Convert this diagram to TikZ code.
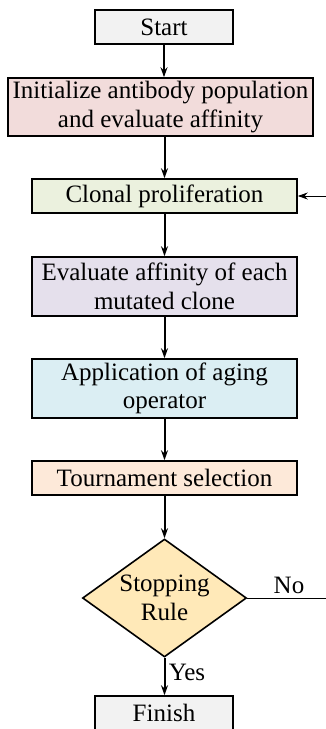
\documentclass[tikz,border=0pt]{standalone}
\usepackage{fontspec}
\setmainfont{LiberationSerif}[Extension=.ttf, UprightFont=*-Regular, BoldFont=*-Bold]
\usetikzlibrary{shapes.geometric,arrows.meta}
\definecolor{termfill}{HTML}{F2F2F2}
\definecolor{initfill}{HTML}{F2DCDB}
\definecolor{clonefill}{HTML}{EBF1DE}
\definecolor{evalfill}{HTML}{E5E0EC}
\definecolor{agefill}{HTML}{DBEEF3}
\definecolor{tourfill}{HTML}{FDE9D9}
\definecolor{rulefill}{HTML}{FFE9B8}
\tikzset{
  stepbox/.style={draw=black, line width=1.6pt, inner sep=0pt, align=center,
    minimum width=265pt, minimum height=34pt},
  rulebox/.style={draw=black, line width=1.6pt, diamond, aspect=1.39, inner sep=0pt,
    align=center, minimum width=164pt, minimum height=118pt, fill=rulefill},
  flow/.style={line width=2pt, -{Stealth[length=10pt,width=7pt]}},
  back/.style={line width=1pt, -{Stealth[length=10pt,width=7pt]}}
}
\begin{document}
\begin{tikzpicture}[x=1pt,y=-1pt,font=\rmfamily\fontsize{25}{28.5}\selectfont]
  \useasboundingbox (0,0) rectangle (325,729);
  \node [stepbox, fill=termfill, minimum width=138pt] (start) at (164,27) {Start};
  \node [stepbox, fill=initfill, minimum width=305pt, minimum height=58pt] (init) at (160.5,107)
    {Initialize antibody population\\and evaluate affinity};
  \node [stepbox, fill=clonefill] (clonal) at (164.5,196) {Clonal proliferation};
  \node [stepbox, fill=evalfill, minimum height=59pt] (evalc) at (164.5,286.5)
    {Evaluate affinity of each\\mutated clone};
  \node [stepbox, fill=agefill, minimum height=59pt] (aging) at (164.5,388.5)
    {Application of aging\\operator};
  \node [stepbox, fill=tourfill] (tour) at (164.5,478) {Tournament selection};
  \node [rulebox] (rule) at (164.5,598) {Stopping\\Rule};
  \node [stepbox, fill=termfill, minimum width=138pt] (finish) at (164,713) {Finish};
  \draw [flow] (start) -- (init.north -| start.south);
  \draw [flow] (init.south -| clonal.north) -- (clonal);
  \draw [flow] (clonal) -- (evalc);
  \draw [flow] (evalc) -- (aging);
  \draw [flow] (aging) -- (tour);
  \draw [flow] (tour) -- (rule);
  \draw [flow] (rule) -- node [right, pos=0.4] {Yes} (finish.north -| rule.south);
  % loop back, its corner lies past the right edge
  \coordinate (loop) at (340,598);
  \draw [back] (rule.east) -- node [above, pos=0.45] {No} (loop) |- (clonal.east);
\end{tikzpicture}
\end{document}
